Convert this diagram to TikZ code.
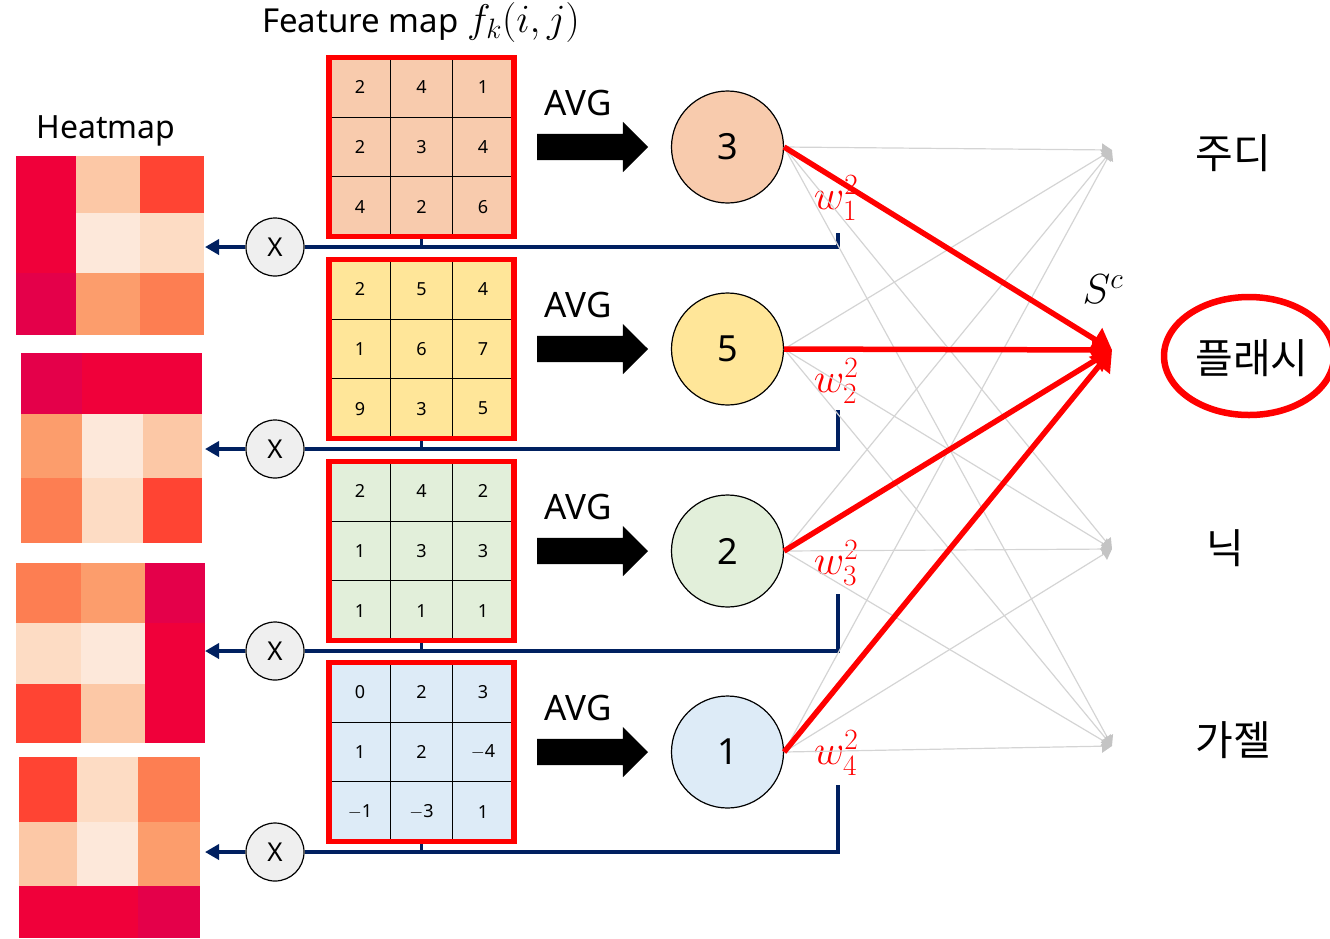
\RequirePackage{fix-cm}
\documentclass[tikz,border=0pt]{standalone}
\usepackage{fontspec}
\setmainfont{Noto Sans}
\newfontfamily\krfont{Noto Sans CJK KR}
\usetikzlibrary{arrows.meta,shapes.arrows}
\definecolor{navy}{HTML}{002060}
\definecolor{linegray}{HTML}{D4D4D4}
\definecolor{tipgray}{HTML}{C4C4C4}
\definecolor{fmA}{HTML}{F8CBAD}
\definecolor{fmB}{HTML}{FFE699}
\definecolor{fmC}{HTML}{E2EFDA}
\definecolor{fmD}{HTML}{DDEBF7}
\definecolor{xfill}{HTML}{EFEFEF}
\definecolor{hmA}{HTML}{F0003A}
\definecolor{hmB}{HTML}{E4004A}
\definecolor{hmC}{HTML}{FF4433}
\definecolor{hmD}{HTML}{FD7E52}
\definecolor{hmE}{HTML}{FC9D6C}
\definecolor{hmF}{HTML}{FCC8A6}
\definecolor{hmG}{HTML}{FDDCC4}
\definecolor{hmH}{HTML}{FDE8DA}
\tikzset{
  fs/.style={font=\fontsize{#1}{#1}\selectfont},
  gridbox/.style={fill=#1, minimum width=185pt, minimum height=179pt, inner sep=0pt, outer sep=0pt},
  cellnum/.style={fs=18, inner sep=0pt},
  avgnode/.style={circle, draw=black, line width=1.2pt, fill=#1, minimum size=112pt, inner sep=0pt, fs=36},
  blockarrow/.style={single arrow, fill=black, minimum height=111pt, inner xsep=0pt, inner ysep=13pt, single arrow head extend=12pt, outer sep=0pt, anchor=tail},
  xnode/.style={circle, draw=black, line width=1.2pt, fill=xfill, minimum size=58pt, inner sep=0pt, fs=26},
  navyline/.style={draw=navy, line width=3.5pt},
  grayline/.style={draw=linegray, line width=1.2pt, -{Triangle[length=10pt,width=13pt,fill=tipgray,color=tipgray]}},
  redline/.style={draw=red, line width=5.5pt, -{Triangle[length=20pt,width=26pt]}},
  wlabel/.style={text=red, fs=42, inner sep=0pt},
  krlabel/.style={font=\krfont\fontsize{41}{43}\selectfont, inner sep=0pt},
}
\begin{document}
\begin{tikzpicture}[x=1pt,y=-1pt]
\useasboundingbox (0,0) rectangle (1330,938);

% ---------- heatmaps ----------
\foreach \xa/\xb/\xc/\xd/\ya/\yb/\yc/\yd/\ca/\cb/\cc/\cd/\ce/\cf/\cg/\ch/\ci in {
  16/76/140/204/156/213/273/335/hmA/hmF/hmC/hmA/hmH/hmG/hmB/hmE/hmD,
  21/82/143/202/353/414/478/543/hmB/hmA/hmA/hmE/hmH/hmF/hmD/hmG/hmC,
  16/81/145/205/563/623/684/743/hmD/hmE/hmB/hmG/hmH/hmA/hmC/hmF/hmA,
  19/77/138/200/757/822/886/938/hmC/hmG/hmD/hmF/hmH/hmE/hmA/hmA/hmB}{
  \fill[\ca] (\xa,\ya) rectangle (\xb,\yb);
  \fill[\cb] (\xb,\ya) rectangle (\xc,\yb);
  \fill[\cc] (\xc,\ya) rectangle (\xd,\yb);
  \fill[\cd] (\xa,\yb) rectangle (\xb,\yc);
  \fill[\ce] (\xb,\yb) rectangle (\xc,\yc);
  \fill[\cf] (\xc,\yb) rectangle (\xd,\yc);
  \fill[\cg] (\xa,\yc) rectangle (\xb,\yd);
  \fill[\ch] (\xb,\yc) rectangle (\xc,\yd);
  \fill[\ci] (\xc,\yc) rectangle (\xd,\yd);
}
\node[fs=32] (heat) at (106,131) {Heatmap};
\node[fs=33] (ftitle) at (421,22) {Feature map {\fontsize{40}{40}\selectfont$f_k(i,j)$}};

% ---------- outputs ----------
\coordinate (o1) at (1112,150);
\coordinate (o2) at (1112,350);
\coordinate (o3) at (1112,549);
\coordinate (o4) at (1112,746);

% ---------- rows ----------
\foreach \k/\cy/\fc/\val/\vt/\wy/\vals in {
  1/147/fmA/3/233/198/{2,4,1,2,3,4,4,2,6},
  2/349/fmB/5/410/381/{2,5,4,1,6,7,9,3,5},
  3/551/fmC/2/594/563/{2,4,2,1,3,3,1,1,1},
  4/752/fmD/1/785/753/{0,2,3,1,2,$-$4,$-$1,$-$3,1}}{
  % feature map grid
  \node[gridbox=\fc] (g\k) at (421.5,\cy) {};
  \draw[black, line width=1.2pt] (390.7,\cy-89.5) -- (390.7,\cy+89.5)
        (452.3,\cy-89.5) -- (452.3,\cy+89.5)
        (329,\cy-29.8) -- (514,\cy-29.8)
        (329,\cy+29.8) -- (514,\cy+29.8);
  \foreach \v [count=\i from 0] in \vals {
    \pgfmathtruncatemacro\rr{int(\i/3)}
    \pgfmathtruncatemacro\cc{mod(\i,3)}
    \node[cellnum] (c\k-\i) at (359.9+61.6*\cc, \cy-59.6+59.6*\rr) {\v};
  }
  % connectors to heatmap
  \node[xnode] (x\k) at (275,\cy+100) {X};
  \coordinate (t\k) at (838,\vt);
  \coordinate (a\k) at (205,\cy+100);
  \draw[navyline] (t\k) |- (x\k.east);
  \draw[navyline] (g\k.south) -- (g\k.south |- x\k.center);
  \draw[navyline, -{Triangle[length=14pt,width=15pt]}] (x\k.west) -- (a\k);
  \draw[red, line width=5.5pt] (g\k.north west) rectangle (g\k.south east);
  % avg arrow and node
  \node[fs=35] (avg\k) at (578,\cy-44) {AVG};
  \node[blockarrow] (ar\k) at (537,\cy) {};
  \node[avgnode=\fc] (n\k) at (727.5,\cy) {\val};
  \node[wlabel] (w\k) at (836,\wy) {$w_{\k}^{2}$};
}

% ---------- fully connected lines ----------
\foreach \k in {1,2,3,4}{
  \foreach \j in {1,3,4}{
    \draw[grayline] (n\k.east) -- (o\j);
  }
}
\foreach \k in {1,3,4}{
  \draw[grayline] (n\k.east) -- (o2);
}
\foreach \k in {1,2,3,4}{
  \draw[redline] (n\k.east) -- (o2);
}
\node[fs=42] (sc) at (1103,289) {$S^c$};

% ---------- class labels ----------
\node[krlabel] (l1) at (1233,153) {주디};
\node[krlabel] (l2) at (1252,358) {플래시};
\node[krlabel] (l3) at (1225,548) {닉};
\node[krlabel] (l4) at (1233,740) {가젤};
\draw[red, line width=6.5pt] (1249,356) ellipse [x radius=85, y radius=59];
\end{tikzpicture}
\end{document}
